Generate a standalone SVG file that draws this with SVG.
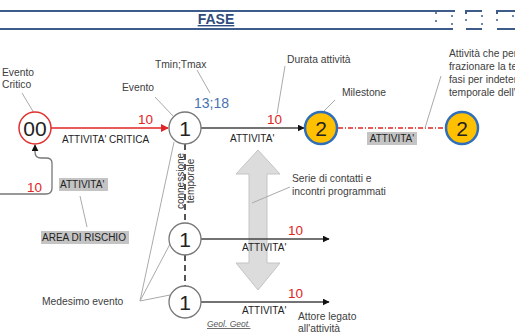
<svg xmlns="http://www.w3.org/2000/svg" width="515" height="334" viewBox="0 0 515 334">
<style>
text{font-family:"Liberation Sans",Arial,sans-serif;}
.hdr{stroke:#3E5C8A;stroke-width:2;fill:none;}
.dot{fill:#3E5C8A;}
.ann{font-size:10.3px;fill:#404040;}
.lbl{font-size:10px;fill:#222;}
.num{font-size:13.5px;fill:#E02525;}
.nt{font-size:21px;fill:#222;text-anchor:middle;}
.lead{stroke:#AAAAAA;stroke-width:1;fill:none;}
.ev{fill:#fff;stroke:#777;stroke-width:1.3;}
.ms{fill:#FFC000;stroke:#2F6EBA;stroke-width:2.5;}
.act{stroke:#444;stroke-width:1.3;fill:none;}
.box{fill:#C4C4C4;}
</style>
<defs>
<marker id="ab" viewBox="0 0 10 10" refX="9" refY="5" markerWidth="7" markerHeight="7" markerUnits="userSpaceOnUse" orient="auto"><path d="M0,0L10,5L0,10z" fill="#111"/></marker>
<marker id="ar" viewBox="0 0 10 10" refX="9" refY="5" markerWidth="8" markerHeight="8" markerUnits="userSpaceOnUse" orient="auto"><path d="M0,0L10,5L0,10z" fill="#E02525"/></marker>
</defs>
<rect width="515" height="334" fill="#fff"/>
<g id="header">
<line class="hdr" x1="0" y1="11" x2="455" y2="11"/>
<line class="hdr" x1="0" y1="29" x2="453" y2="29"/>
<circle class="dot" cx="436" cy="13" r="1"/><circle class="dot" cx="436" cy="21" r="1"/>
<circle class="dot" cx="452" cy="16" r="1"/><circle class="dot" cx="452" cy="24" r="1"/>
<path class="hdr" d="M466,14V11H482"/><line class="hdr" x1="466" y1="29" x2="482" y2="29"/>
<circle class="dot" cx="466" cy="20" r="1"/><circle class="dot" cx="482" cy="16" r="1"/><circle class="dot" cx="482" cy="24" r="1"/>
<path class="hdr" d="M497,14V11H515"/><line class="hdr" x1="497" y1="29" x2="515" y2="29"/>
<circle class="dot" cx="497" cy="20" r="1"/><circle class="dot" cx="513" cy="16" r="1"/>
<text x="216" y="24" text-anchor="middle" font-size="14" font-weight="bold" fill="#2F4B7C" text-decoration="underline">FASE</text>
</g>
<g id="big-arrow">
<path d="M258,150L280,174H267V263H280L258,290L236,263H249V174H236Z" fill="#DCDCDC" stroke="#C4C4C4" stroke-width="1"/>
</g>
<g id="connectors">
<line x1="185" y1="144" x2="185" y2="224" stroke="#555" stroke-width="2" stroke-dasharray="6,4"/>
<line x1="185" y1="255" x2="185" y2="287" stroke="#555" stroke-width="2" stroke-dasharray="6,4"/>
<line x1="51" y1="128" x2="168" y2="128" stroke="#E02525" stroke-width="1.3" marker-end="url(#ar)"/>
<line class="act" x1="201" y1="128" x2="304" y2="128" marker-end="url(#ab)"/>
<line x1="338" y1="128" x2="446" y2="128" stroke="#E02525" stroke-width="1.3" stroke-dasharray="5,2,1,2"/>
<line class="act" x1="201" y1="239" x2="329" y2="239" marker-end="url(#ab)"/>
<line class="act" x1="201" y1="302" x2="329" y2="302" marker-end="url(#ab)"/>
<path d="M0,194H46Q52,194 52,188V163Q52,158 46,158H41Q35,158 35,152V145" stroke="#777" stroke-width="1.3" fill="none" marker-end="url(#ab)"/>
<line class="lead" x1="22" y1="93" x2="34" y2="113"/>
<line class="lead" x1="155" y1="97" x2="173" y2="116"/>
<line class="lead" x1="197" y1="70" x2="210" y2="93"/>
<line class="lead" x1="285" y1="66" x2="277" y2="114"/>
<line class="lead" x1="335" y1="100" x2="323" y2="112"/>
<line class="lead" x1="441" y1="76" x2="425" y2="128"/>
<line class="lead" x1="290" y1="187" x2="252" y2="203"/>
<line class="lead" x1="80" y1="196" x2="87" y2="227"/>
<line class="lead" x1="140" y1="301" x2="174" y2="142"/>
<line class="lead" x1="140" y1="301" x2="170" y2="244"/>
<line class="lead" x1="140" y1="301" x2="170" y2="295"/>
</g>
<g id="n00"><circle cx="35" cy="128" r="16" fill="#fff" stroke="#E03030" stroke-width="1.5"/><text class="nt" x="35" y="136">00</text></g>
<g id="n1a"><circle class="ev" cx="185" cy="128" r="16"/><text class="nt" x="185" y="136">1</text></g>
<g id="n2a"><circle class="ms" cx="321" cy="128" r="16"/><text class="nt" x="321" y="136">2</text></g>
<g id="n2b"><circle class="ms" cx="462" cy="128" r="16"/><text class="nt" x="462" y="136">2</text></g>
<g id="n1b"><circle class="ev" cx="185" cy="239" r="16"/><text class="nt" x="185" y="247">1</text></g>
<g id="n1c"><circle class="ev" cx="185" cy="302" r="16"/><text class="nt" x="185" y="310">1</text></g>
<g id="labels">
<text class="num" x="138" y="124">10</text>
<text class="lbl" x="62" y="143">ATTIVITA' CRITICA</text>
<text class="num" x="267" y="124">10</text>
<text class="lbl" x="230" y="142">ATTIVITA'</text>
<rect class="box" x="367" y="132" width="50" height="13"/>
<text class="lbl" x="392" y="142" text-anchor="middle">ATTIVITA'</text>
<text class="num" x="27" y="192">10</text>
<rect class="box" x="59" y="178" width="49" height="13"/>
<text class="lbl" x="60" y="188">ATTIVITA'</text>
<rect class="box" x="41" y="231" width="88" height="13"/>
<text class="lbl" x="42" y="241">AREA DI RISCHIO</text>
<text class="num" x="288" y="235">10</text>
<text class="lbl" x="242" y="251">ATTIVITA'</text>
<text class="num" x="288" y="298">10</text>
<text class="lbl" x="242" y="314">ATTIVITA'</text>
<g transform="translate(184,181) rotate(-90)"><text x="0" y="0" font-size="10" fill="#333" text-anchor="middle">connessione</text></g>
<g transform="translate(194,181) rotate(-90)"><text x="0" y="0" font-size="10" fill="#333" text-anchor="middle">temporale</text></g>
<text class="ann" x="2" y="76">Evento</text>
<text class="ann" x="2" y="88">Critico</text>
<text class="ann" x="122" y="91">Evento</text>
<text class="ann" x="155" y="68">Tmin;Tmax</text>
<text x="194" y="108" font-size="14" fill="#4A72B0">13;18</text>
<text class="ann" x="287" y="63">Durata attività</text>
<text class="ann" x="342" y="96">Milestone</text>
<text class="ann" x="449" y="57">Attività che per</text>
<text class="ann" x="449" y="70">frazionare la te</text>
<text class="ann" x="449" y="83">fasi per indeter</text>
<text class="ann" x="449" y="96">temporale dell'</text>
<text class="ann" x="292" y="182">Serie di contatti e</text>
<text class="ann" x="292" y="195">incontri programmati</text>
<text class="ann" x="42" y="305">Medesimo evento</text>
<text class="ann" x="298" y="320">Attore legato</text>
<text class="ann" x="298" y="332">all'attività</text>
<text x="207" y="327" font-size="8.5" font-style="italic" fill="#555" text-decoration="underline">Geol. Geot.</text>
</g>
</svg>
